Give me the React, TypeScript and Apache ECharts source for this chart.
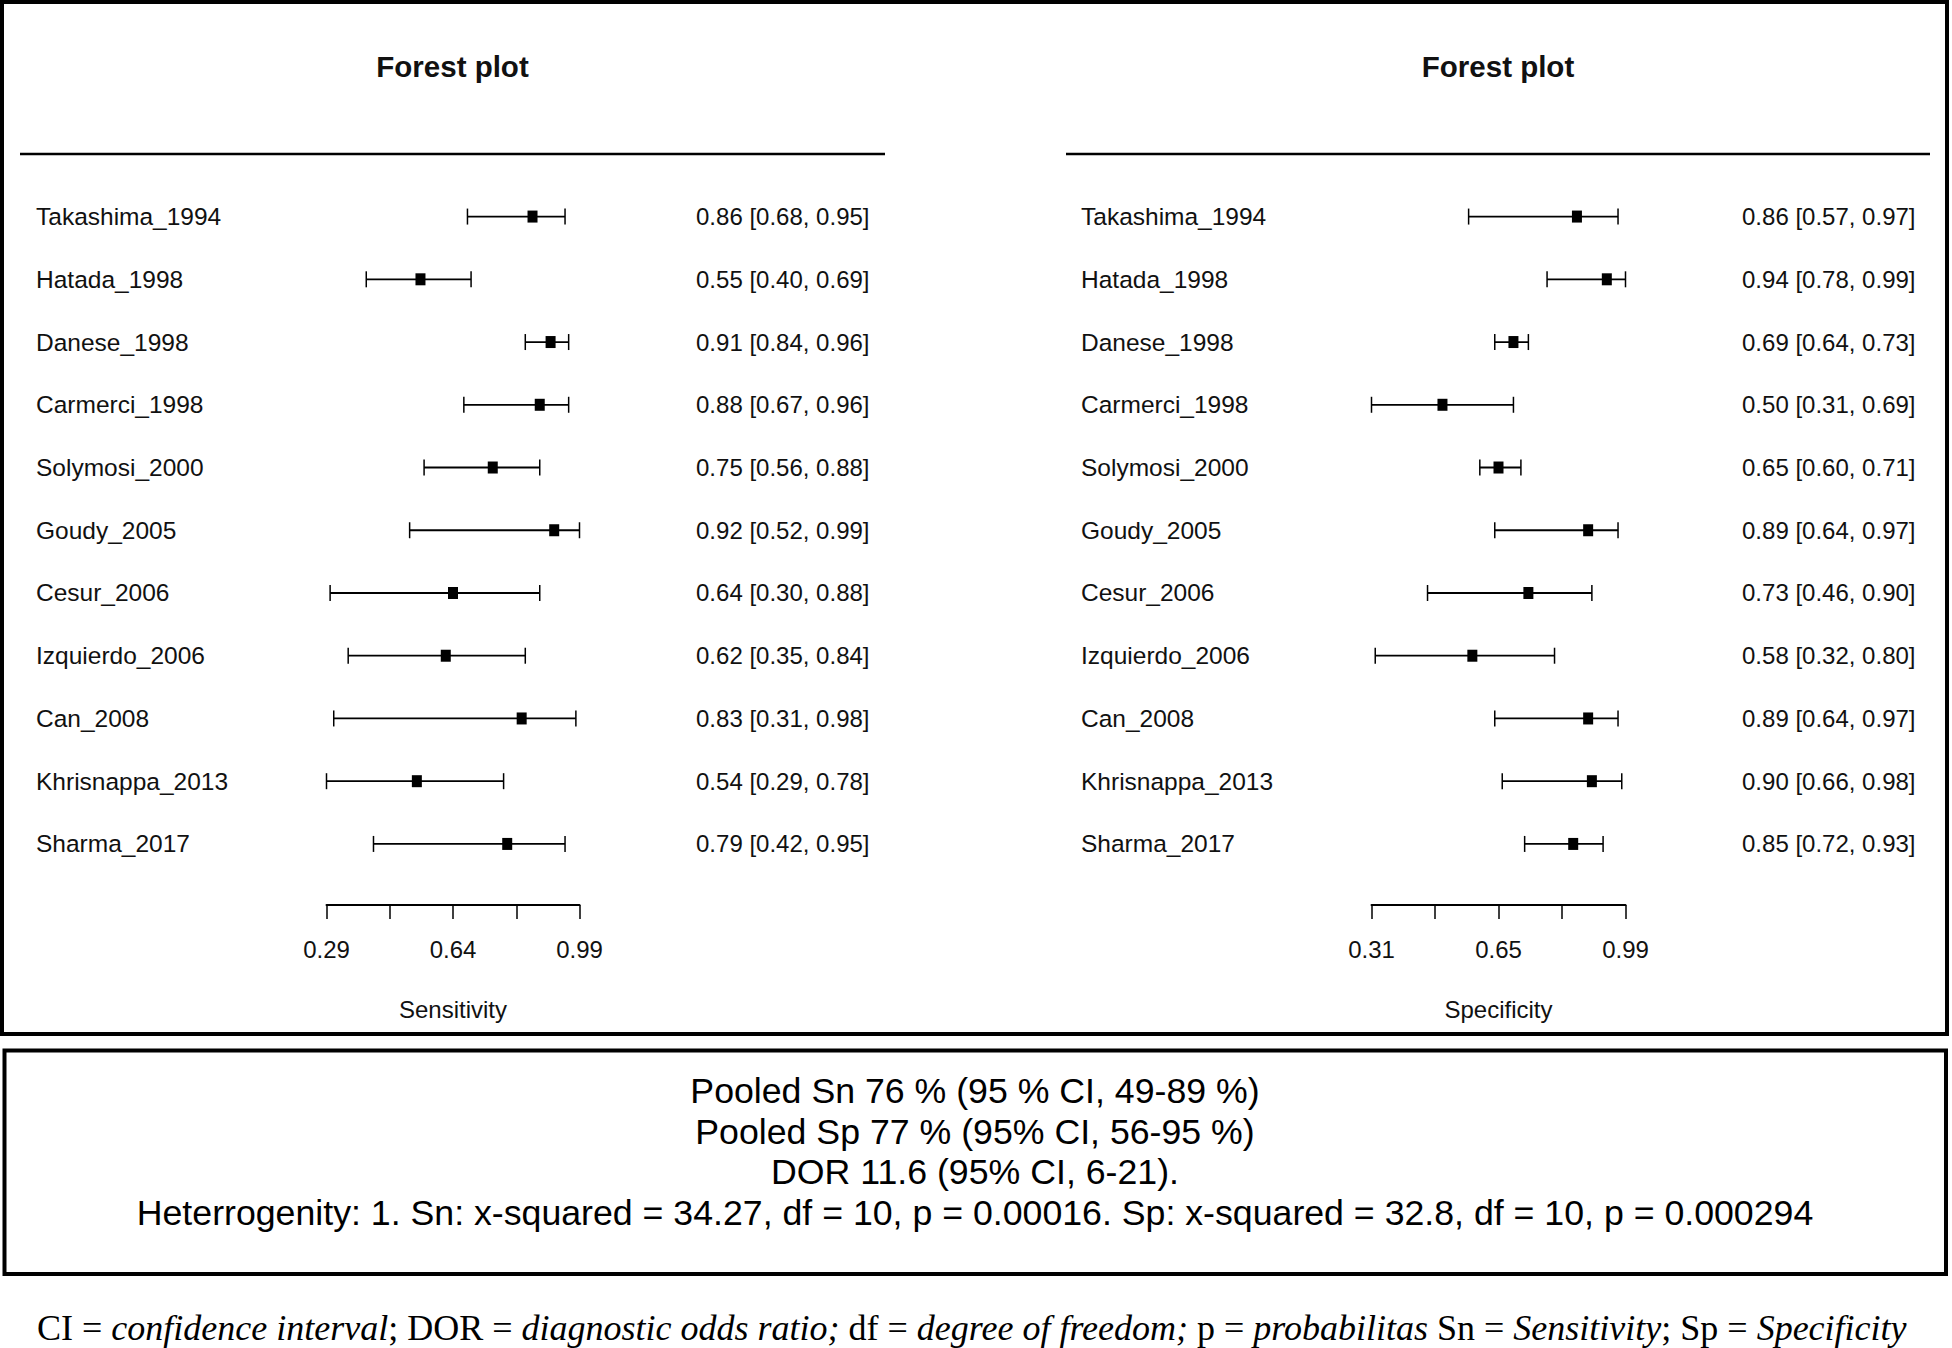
import React, { useEffect, useRef } from "react";
import * as echarts from "echarts";

const studies = [
  "Takashima_1994",
  "Hatada_1998",
  "Danese_1998",
  "Carmerci_1998",
  "Solymosi_2000",
  "Goudy_2005",
  "Cesur_2006",
  "Izquierdo_2006",
  "Can_2008",
  "Khrisnappa_2013",
  "Sharma_2017",
];
const sensEst = [0.86, 0.55, 0.91, 0.88, 0.75, 0.92, 0.64, 0.62, 0.83, 0.54, 0.79];
const sensLo = [0.68, 0.4, 0.84, 0.67, 0.56, 0.52, 0.3, 0.35, 0.31, 0.29, 0.42];
const sensHi = [0.95, 0.69, 0.96, 0.96, 0.88, 0.99, 0.88, 0.84, 0.98, 0.78, 0.95];
const specEst = [0.86, 0.94, 0.69, 0.5, 0.65, 0.89, 0.73, 0.58, 0.89, 0.9, 0.85];
const specLo = [0.57, 0.78, 0.64, 0.31, 0.6, 0.64, 0.46, 0.32, 0.64, 0.66, 0.72];
const specHi = [0.97, 0.99, 0.73, 0.69, 0.71, 0.97, 0.9, 0.8, 0.97, 0.98, 0.93];
const sensTicks = [0.29, 0.465, 0.64, 0.815, 0.99];
const sensTickLabels = [0.29, 0.64, 0.99];
const specTicks = [0.31, 0.48, 0.65, 0.82, 0.99];
const specTickLabels = [0.31, 0.65, 0.99];
const panelTitles = ["Forest plot", "Forest plot"];
const axisNames = ["Sensitivity", "Specificity"];
const summaryLines = [
  "Pooled Sn 76 % (95 % CI, 49-89 %)",
  "Pooled Sp 77 % (95% CI, 56-95 %)",
  "DOR 11.6 (95% CI, 6-21).",
  "Heterrogenity: 1. Sn: x-squared = 34.27, df = 10, p = 0.00016. Sp: x-squared = 32.8, df = 10, p = 0.000294",
];
const footnoteParts: [string, boolean][] = [
  ["CI = ", false],
  ["confidence interval", true],
  ["; DOR = ", false],
  ["diagnostic odds ratio;", true],
  [" df = ", false],
  ["degree of freedom;", true],
  [" p = ", false],
  ["probabilitas", true],
  [" Sn = ", false],
  ["Sensitivity", true],
  ["; Sp = ", false],
  ["Specificity", true],
];

const SANS = "Liberation Sans";
const SERIF = "Liberation Serif";
const TXT = "#111";

const fmt = (v: number) => v.toFixed(2);

function ciRender(params: any, api: any) {
  const y = api.value(0);
  const p0 = api.coord([api.value(1), y]);
  const p1 = api.coord([api.value(2), y]);
  const h = 8;
  const st = { stroke: "#000", lineWidth: 1.8 };
  return {
    type: "group",
    children: [
      { type: "line", shape: { x1: p0[0], y1: p0[1], x2: p1[0], y2: p1[1] }, style: st },
      { type: "line", shape: { x1: p0[0], y1: p0[1] - h, x2: p0[0], y2: p0[1] + h }, style: { stroke: "#000", lineWidth: 1.5 } },
      { type: "line", shape: { x1: p1[0], y1: p1[1] - h, x2: p1[0], y2: p1[1] + h }, style: { stroke: "#000", lineWidth: 1.5 } },
    ],
  };
}

export default function App() {
  const ref = useRef<HTMLDivElement>(null);
  useEffect(() => {
    if (!ref.current) return;
    const chart = echarts.init(ref.current, null, { renderer: "svg" });

    const panels = [
      { est: sensEst, lo: sensLo, hi: sensHi, ticks: sensTicks, tickLabels: sensTickLabels, min: 0.29, max: 0.99, left: 326.5, width: 253 },
      { est: specEst, lo: specLo, hi: specHi, ticks: specTicks, tickLabels: specTickLabels, min: 0.31, max: 0.99, left: 1371.5, width: 254 },
    ];
    const gridTop = 185.2;
    const gridHeight = 690.1;

    const grid: any[] = [];
    const xAxis: any[] = [];
    const yAxis: any[] = [];
    const series: any[] = [];

    panels.forEach((p, k) => {
      grid.push({ left: p.left, width: p.width, top: gridTop, height: gridHeight });
      xAxis.push({
        gridIndex: k,
        type: "value",
        min: p.min,
        max: p.max,
        position: "bottom",
        offset: 29.6,
        axisLine: { show: true, lineStyle: { color: "#000", width: 2 } },
        axisTick: { show: true, length: 14, customValues: p.ticks, lineStyle: { color: "#000", width: 1.5 } },
        axisLabel: {
          show: true,
          customValues: p.tickLabels,
          formatter: (v: number) => fmt(v),
          margin: 33,
          fontSize: 24,
          color: TXT,
          fontFamily: SANS,
        },
        splitLine: { show: false },
        name: axisNames[k],
        nameLocation: "middle",
        nameGap: 93,
        nameTextStyle: { fontSize: 24, color: TXT, fontFamily: SANS },
      });
      yAxis.push({
        gridIndex: k,
        type: "category",
        data: studies,
        inverse: true,
        position: "left",
        axisLine: { show: false },
        axisTick: { show: false },
        splitLine: { show: false },
        axisLabel: { interval: 0, align: "left", margin: 290.5, fontSize: 24.5, color: TXT, fontFamily: SANS },
      });
      yAxis.push({
        gridIndex: k,
        type: "category",
        data: studies.map((_, i) => `${fmt(p.est[i])} [${fmt(p.lo[i])}, ${fmt(p.hi[i])}]`),
        inverse: true,
        position: "right",
        axisLine: { show: false },
        axisTick: { show: false },
        splitLine: { show: false },
        axisLabel: { interval: 0, align: "right", margin: 290, fontSize: 24, color: TXT, fontFamily: SANS },
      });
      series.push({
        type: "custom",
        xAxisIndex: k,
        yAxisIndex: k * 2,
        renderItem: ciRender,
        encode: { x: [1, 2], y: 0 },
        data: studies.map((s, i) => [s, p.lo[i], p.hi[i]]),
        silent: true,
      });
      series.push({
        type: "scatter",
        xAxisIndex: k,
        yAxisIndex: k * 2,
        symbol: "rect",
        symbolSize: [10, 12],
        itemStyle: { color: "#000", opacity: 1 },
        data: studies.map((s, i) => [p.est[i], s]),
        silent: true,
      });
    });

    const graphic: any[] = [
      { type: "rect", shape: { x: 2, y: 2, width: 1945, height: 1032 }, style: { fill: "none", stroke: "#000", lineWidth: 4 }, silent: true },
      { type: "rect", shape: { x: 4.5, y: 1050.5, width: 1941.5, height: 223.5 }, style: { fill: "none", stroke: "#000", lineWidth: 4 }, silent: true },
      { type: "line", shape: { x1: 20, y1: 154, x2: 885, y2: 154 }, style: { stroke: "#000", lineWidth: 2.5 }, silent: true },
      { type: "line", shape: { x1: 1066, y1: 154, x2: 1930, y2: 154 }, style: { stroke: "#000", lineWidth: 2.5 }, silent: true },
      {
        type: "text",
        x: 452.5,
        y: 66,
        style: { text: panelTitles[0], fontSize: 29.5, fontWeight: "bold", fontFamily: SANS, fill: TXT, align: "center", verticalAlign: "middle" },
      },
      {
        type: "text",
        x: 1498,
        y: 66,
        style: { text: panelTitles[1], fontSize: 29.5, fontWeight: "bold", fontFamily: SANS, fill: TXT, align: "center", verticalAlign: "middle" },
      },
    ];
    const summaryY = [1090.6, 1131.6, 1171.5, 1212.6];
    summaryLines.forEach((t, i) => {
      graphic.push({
        type: "text",
        x: 975,
        y: summaryY[i],
        style: { text: t, fontSize: 35.7, fontFamily: SANS, fill: "#000", align: "center", verticalAlign: "middle" },
      });
    });
    graphic.push({
      type: "text",
      x: 37,
      y: 1328,
      style: {
        text: footnoteParts.map(([t, it]) => `{${it ? "i" : "n"}|${t}}`).join(""),
        align: "left",
        verticalAlign: "middle",
        rich: {
          n: { fontFamily: SERIF, fontSize: 36, fill: "#000" },
          i: { fontFamily: SERIF, fontSize: 36, fontStyle: "italic", fill: "#000" },
        },
      },
    });

    chart.setOption({
      animation: false,
      backgroundColor: "#fff",
      textStyle: { fontFamily: SANS },
      grid,
      xAxis,
      yAxis,
      series,
      graphic,
    });
    return () => chart.dispose();
  }, []);
  return (
    <div
      ref={ref}
      style={{ position: "absolute", left: 0, top: 0, width: 1952, height: 1348, background: "#fff" }}
    />
  );
}
